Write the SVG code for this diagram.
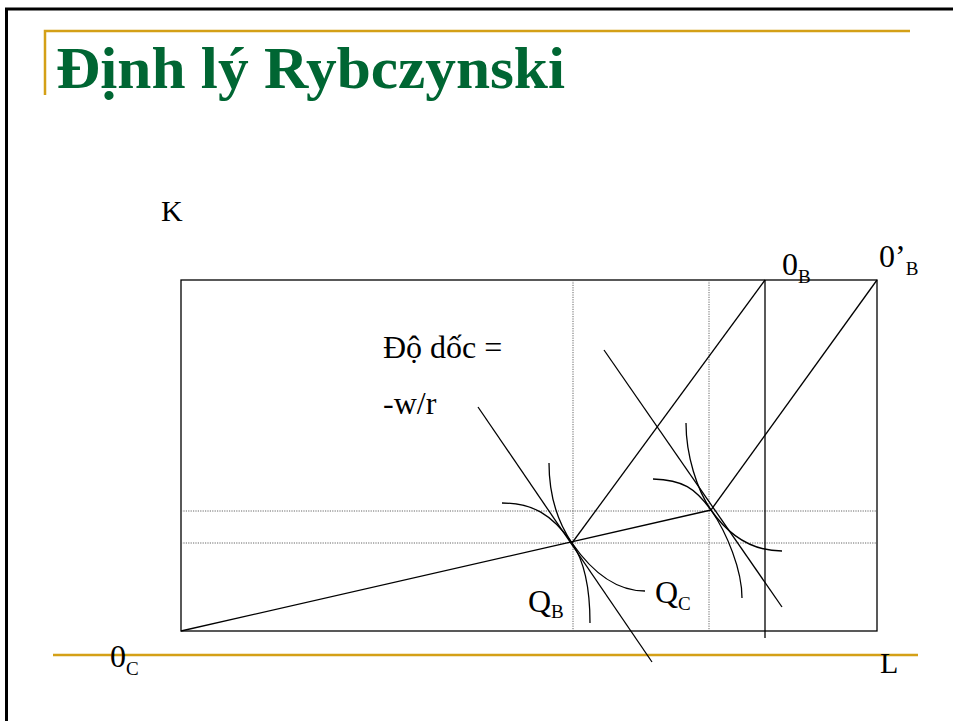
<svg xmlns="http://www.w3.org/2000/svg" width="953" height="721" viewBox="0 0 953 721">
<style>
.ln{stroke:#000;stroke-width:1.3;fill:none}
.dot{stroke:#555;stroke-width:0.9;stroke-dasharray:1.2,1.2;fill:none}
.gold{stroke:#d4a017;stroke-width:2.5;fill:none}
</style>
<rect width="953" height="721" fill="#fff"/>
<g id="frame">
<path d="M6.5,721 V9 H953" stroke="#000" stroke-width="3" fill="none"/>
<path class="gold" d="M45,95 V31 H910"/>
<path class="gold" d="M53,655 H918"/>
</g>
<g id="title">
<text x="56" y="88" font-family="Liberation Serif, Times New Roman, serif" font-weight="bold" font-size="60" fill="#006633" textLength="509" lengthAdjust="spacingAndGlyphs">Định lý Rybczynski</text>
</g>
<g id="connectors">
<rect class="ln" x="181" y="280" width="696" height="351"/>
<path class="dot" d="M573,280 V631 M709,280 V631 M181,511 H877 M181,543 H877"/>
<path class="ln" d="M765,280 V638"/>
<path class="ln" d="M181,631 L711,510"/>
<path class="ln" d="M572,543 L765,280"/>
<path class="ln" d="M711,510 L877,280"/>
<path class="ln" d="M478,407 L652,662"/>
<path class="ln" d="M604,350 L782,607"/>
</g>
<g id="isoquant-B">
<path class="ln" d="M502,503 C532,503 552,514 572,543 C592,572 615,591 645,591"/>
<path class="ln" d="M549,463 C549,493 557,521 572,543 C587,565 590,595 590,623"/>
</g>
<g id="isoquant-C">
<path class="ln" d="M653,479 C683,480 695,488 711,510 C727,533 750,551 782,551"/>
<path class="ln" d="M686,423 C686,455 697,490 711,510 C727,533 742,570 742,598"/>
</g>
<g id="labels" font-family="Liberation Serif, Times New Roman, serif" fill="#000">
<text x="161" y="221" font-size="30">K</text>
<text x="383" y="358" font-size="32">Độ dốc =</text>
<text x="383" y="414" font-size="32">-w/r</text>
<text x="782" y="275" font-size="32">0<tspan font-size="19" dy="8">B</tspan></text>
<text x="879" y="267" font-size="32">0’<tspan font-size="19" dy="8">B</tspan></text>
<text x="528" y="612" font-size="32">Q<tspan font-size="19" dy="6">B</tspan></text>
<text x="655" y="603" font-size="32">Q<tspan font-size="19" dy="7">C</tspan></text>
<text x="110" y="667" font-size="32">0<tspan font-size="19" dy="8">C</tspan></text>
<text x="880" y="673" font-size="30">L</text>
</g>
</svg>
